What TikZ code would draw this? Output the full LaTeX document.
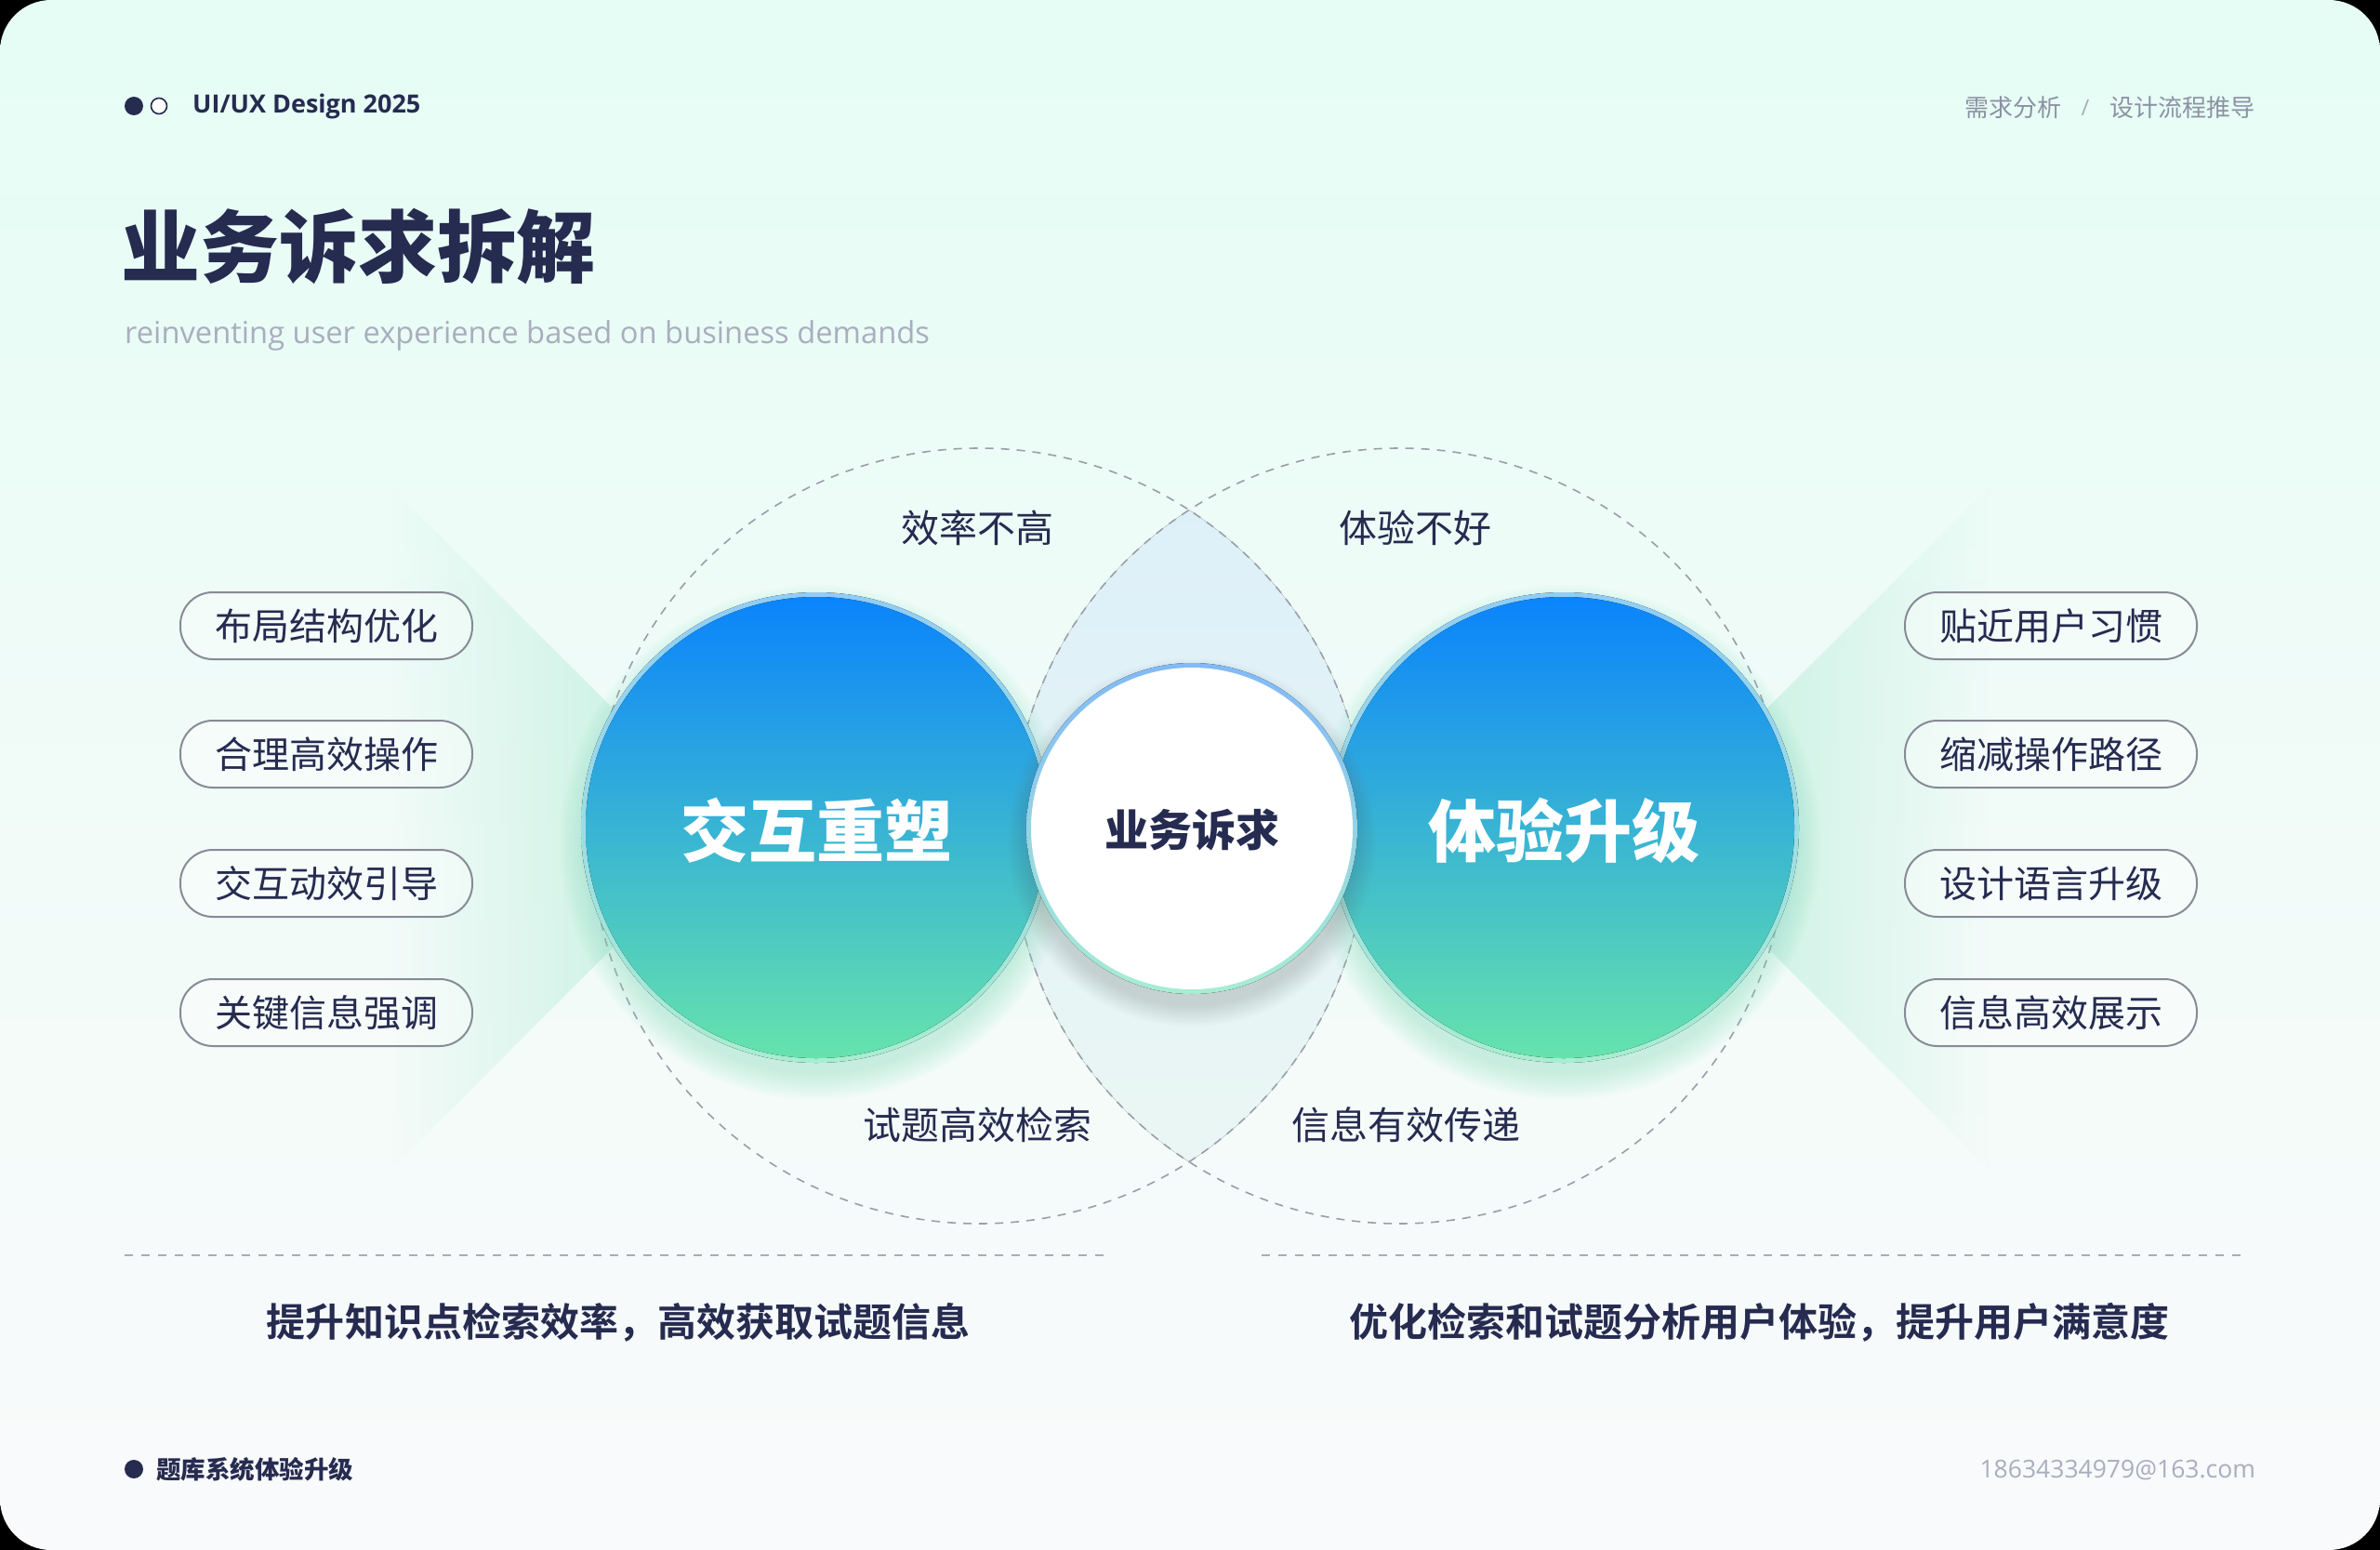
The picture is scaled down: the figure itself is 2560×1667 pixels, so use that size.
\documentclass[tikz,border=0pt]{standalone}
\usepackage{fontspec}
\usetikzlibrary{fadings}
\setmainfont{Open Sans}
\newfontfamily\cjk{Noto Sans CJK SC}
\newfontfamily\cjkbold{Noto Sans CJK SC Bold}
\newfontfamily\cjkblack{Noto Sans CJK SC Black}
\newcommand\fsz[1]{\fontsize{#1bp}{#1bp}\selectfont}
\definecolor{navy}{HTML}{262B50}
\definecolor{bgtop}{HTML}{E5FDF5}
\definecolor{bgmid}{HTML}{F1FBF8}
\definecolor{bgbot}{HTML}{F9FAFB}
\definecolor{graytxt}{HTML}{8C91A3}
\definecolor{lightgray}{HTML}{A9AEBE}
\definecolor{dashgray}{HTML}{9A9EA8}
\definecolor{pillgray}{HTML}{878B96}
\definecolor{wedge}{HTML}{BFEFDD}
\definecolor{lenstop}{HTML}{DCEFF9}
\definecolor{lensbot}{HTML}{EBF7F3}
\definecolor{cblue}{HTML}{0A84FC}
\definecolor{cmid}{HTML}{34B2D6}
\definecolor{cgreen}{HTML}{66E3AC}
\definecolor{ringtop}{HTML}{90CDF6}
\definecolor{ringbot}{HTML}{A8EDD2}
\definecolor{glow}{HTML}{8FE6C6}
\tikzfading[name=fadeleft, left color=transparent!100, right color=transparent!0]
\tikzfading[name=faderight, left color=transparent!0, right color=transparent!100]
\tikzset{
  pill/.style={draw=pillgray, line width=2bp, rounded corners=35bp,
    minimum width=314bp, minimum height=72bp, inner sep=0,
    fill=white, fill opacity=0.35, text opacity=1,
    font=\cjk\fsz{40}, text=navy},
  dashcirc/.style={draw=dashgray, line width=1.6bp, dash pattern=on 9bp off 8bp},
  dashline/.style={draw=dashgray!85, line width=2.2bp, dash pattern=on 9bp off 9bp},
  label/.style={font=\cjk\fsz{41}, text=navy, inner sep=0},
  bigtxt/.style={font=\cjkblack\fsz{73}, text=white, inner sep=0},
  bottomtxt/.style={font=\cjkbold\fsz{42}, text=navy, inner sep=0},
}
\begin{document}
\begin{tikzpicture}[x=1bp,y=-1bp]
\useasboundingbox (0,0) rectangle (2560,1667);
\fill[black] (0,0) rectangle (2560,1667);
\fill[top color=bgtop, bottom color=bgbot, middle color=bgmid, rounded corners=55bp] (0,0) rectangle (2560,1667);

% header
\fill[navy] (144,114) circle (10);
\draw[navy, line width=1.6bp, fill=white] (171,114) circle (8.5);
\node[anchor=west, inner sep=0, font=\bfseries\fsz{27}, text=navy] (brand) at (207,114) {UI/UX Design 2025};
\node[anchor=west, inner sep=0, font=\cjk\fsz{26}, text=graytxt] (crumb1) at (2113,116) {需求分析};
\node[inner sep=0, font=\fsz{24}, text=lightgray] (slash) at (2243,116) {/};
\node[anchor=east, inner sep=0, font=\cjk\fsz{26}, text=graytxt] (crumb2) at (2426,116) {设计流程推导};
\node[anchor=west, inner sep=0, font=\cjkblack\fsz{85}, text=navy] (title) at (130,265) {业务诉求拆解};
\node[anchor=west, inner sep=0, font=\fsz{32.7}, text=lightgray] (subtitle) at (134,361) {reinventing user experience based on business demands};

% wedges
\fill[wedge, path fading=fadeleft] (788,890) -- (420,522) -- (420,1258) -- cycle;
\fill[wedge, path fading=faderight] (1772,890) -- (2140,522) -- (2140,1258) -- cycle;

% lens
\begin{scope}
  \clip (1053,899) circle (417);
  \fill[top color=lenstop, bottom color=lensbot] (1505,899) circle (417);
\end{scope}
\draw[dashcirc] (1053,899) circle (417);
\draw[dashcirc] (1505,899) circle (417);

% glows
\foreach \i in {1,...,14}{
  \fill[glow, opacity=0.035] (878,906) circle ({246+2.2*\i});
  \fill[glow, opacity=0.035] (1682,906) circle ({246+2.2*\i});
}
% big circles
\fill[top color=ringtop, bottom color=ringbot] (878,890) circle (253);
\fill[top color=cblue, middle color=cmid, bottom color=cgreen] (878,890) circle (248);
\fill[top color=ringtop, bottom color=ringbot] (1682,890) circle (253);
\fill[top color=cblue, middle color=cmid, bottom color=cgreen] (1682,890) circle (248);

% white centre circle
\foreach \i in {1,...,12}{
  \fill[black!60, opacity=0.018] (1282,906) circle ({174+2*\i});
}
\fill[top color=ringtop!90!blue, bottom color=ringbot] (1282,891) circle (178);
\fill[white] (1282,891) circle (173);

\node[bigtxt] (left) at (878,893) {交互重塑};
\node[bigtxt] (right) at (1682,893) {体验升级};
\node[font=\cjkblack\fsz{47}, text=navy, inner sep=0] (core) at (1282,893) {业务诉求};

% problem labels
\node[label] (p1) at (1051,568) {效率不高};
\node[label] (p2) at (1522,568) {体验不好};
\node[label] (p3) at (1051,1210) {试题高效检索};
\node[label] (p4) at (1512,1210) {信息有效传递};

% pills
\node[pill] (l1) at (351,673) {布局结构优化};
\node[pill] (l2) at (351,811) {合理高效操作};
\node[pill] (l3) at (351,950) {交互动效引导};
\node[pill] (l4) at (351,1089) {关键信息强调};
\node[pill] (r1) at (2206,673) {贴近用户习惯};
\node[pill] (r2) at (2206,811) {缩减操作路径};
\node[pill] (r3) at (2206,950) {设计语言升级};
\node[pill] (r4) at (2206,1089) {信息高效展示};

% bottom
\coordinate (dl1) at (134,1350); \coordinate (dl2) at (1187,1350);
\coordinate (dr1) at (1357,1350); \coordinate (dr2) at (2413,1350);
\draw[dashline] (dl1) -- (dl2);
\draw[dashline] (dr1) -- (dr2);
\node[bottomtxt] (b1) at (665,1422) {提升知识点检索效率，高效获取试题信息};
\node[bottomtxt] (b2) at (1892,1422) {优化检索和试题分析用户体验，提升用户满意度};

% footer
\fill[navy] (144,1580) circle (10);
\node[anchor=west, inner sep=0, font=\cjkblack\fsz{26.5}, text=navy] (foot) at (168,1580) {题库系统体验升级};
\node[anchor=east, inner sep=0, font=\fsz{26.5}, text=lightgray] (mail) at (2426,1581) {18634334979@163.com};
\end{tikzpicture}
\end{document}
